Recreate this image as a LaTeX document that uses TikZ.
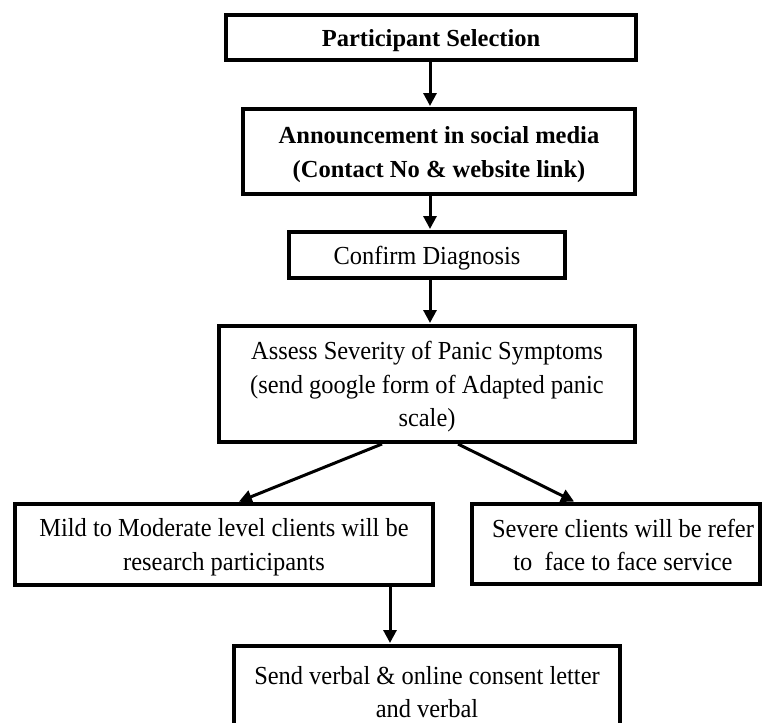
\documentclass[tikz,border=0pt]{standalone}
\usepackage{fontspec}
\setmainfont{Liberation Serif}
\newfontfamily\narrowserif{Liberation Serif}[FakeStretch=0.94]
\usetikzlibrary{arrows.meta}
\begin{document}
\begin{tikzpicture}[x=1pt,y=-1pt,
  txt/.style={inner sep=0pt, align=center, text depth=0pt,
    font=\narrowserif\fontsize{26}{33.5}\selectfont},
  boldtxt/.style={font=\fontsize{24.5}{34}\selectfont\bfseries},
  box/.style={txt, draw, line width=4pt, fill=white},
  link/.style={line width=3pt, -{Triangle[length=13pt,width=13pt]}, shorten >=1pt}]
\useasboundingbox (0,0) rectangle (764,723);
\clip (0,0) rectangle (764,723);

% process boxes
\node[box, boldtxt, minimum width=410, minimum height=45]
  (b1) at (431,37.5) {Participant Selection};
\node[box, boldtxt, minimum width=392, minimum height=85]
  (b2) at (439,151.5) {Announcement in social media\\(Contact No \& website link)};
\node[box, minimum width=276, minimum height=46] (b3) at (427,255) {Confirm Diagnosis};
\node[box, minimum width=416, minimum height=116] (b4) at (427,384)
  {Assess Severity of Panic Symptoms\\(send google form of Adapted panic\\scale)};
\node[box, minimum width=418, minimum height=81] (mild) at (224,544.5)
  {Mild to Moderate level clients will be\\research participants};
\node[box, minimum width=288, minimum height=80] (sev) at (616,544) {};
\node[txt] (sevtxt) at (623,545) {Severe clients will be refer\\to\ \ face to face service};
\node[box, minimum width=386, minimum height=112] (send) at (427,702) {};
\node[txt] (sendtxt) at (427,692) {Send verbal \& online consent letter\\and verbal};

% connectors
\coordinate (mx) at (430,0);
\coordinate (l1) at (382,0);
\coordinate (l2) at (238,0);
\coordinate (r1) at (458,0);
\coordinate (r2) at (575,0);
\coordinate (dx) at (390,0);
\draw[link] (b1.south -| mx) -- (b2.north -| mx);
\draw[link] (b2.south -| mx) -- (b3.north -| mx);
\draw[link] (b3.south -| mx) -- (b4.north -| mx);
\draw[link] (b4.south -| l1) -- (mild.north -| l2);
\draw[link] (b4.south -| r1) -- (sev.north -| r2);
\draw[link] (mild.south -| dx) -- (send.north -| dx);
\end{tikzpicture}
\end{document}
